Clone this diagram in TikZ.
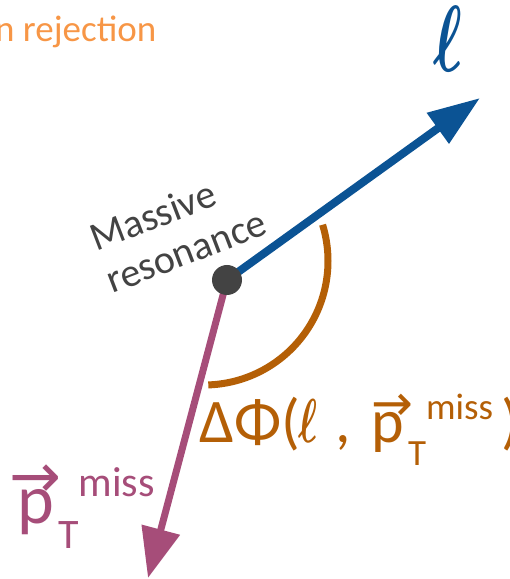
\RequirePackage{fix-cm}
\documentclass[tikz,border=0pt]{standalone}
\usepackage{fontspec}
\setmainfont{Carlito}
\newfontfamily\arrowfont{DejaVu Sans}
\usepackage{xcolor}
\definecolor{lepblue}{HTML}{0B5394}
\definecolor{metpurple}{HTML}{A64D79}
\definecolor{anglebrown}{HTML}{B45F06}
\definecolor{resgray}{HTML}{434343}
\definecolor{rejorange}{HTML}{F79646}
\usetikzlibrary{arrows.meta, positioning, calc}

% p_T^miss with arrow: main size, arrow size, script size, arrow kern
\newcommand{\ptmiss}[4]{{\fontsize{#1}{#1}\selectfont
    \rlap{\kern#4\raisebox{0.36em}{\fontsize{#2}{#2}\arrowfont →}}p\kern0.06em%
    \raisebox{-0.36em}{\fontsize{#3}{#3}\selectfont T}%
    \raisebox{0.38em}{\fontsize{#3}{#3}\selectfont miss}}}
\newcommand{\lep}{\scalebox{0.65}[1]{\boldmath$\ell$}}

\begin{document}
\begin{tikzpicture}[
    x=1pt, y=1pt,
    vertex/.style={
        circle,
        fill=resgray,
        minimum size=30pt,
        inner sep=0pt,
    },
    lepton/.style={line width=8pt, color=lepblue, -{Triangle[length=52pt, width=36pt]}},
    missing/.style={line width=7pt, color=metpurple, -{Triangle[length=50pt, width=38pt]}},
    anglearc/.style={line width=7pt, color=anglebrown},
    reslbl/.style={
        font=\fontsize{40}{45}\selectfont,
        color=resgray,
        align=left,
        rotate=21,
        inner sep=0pt,
    },
    lbl/.style={anchor=base west, inner sep=0pt},
]

\useasboundingbox (0,0) rectangle (510,579);
\clip (0,0) rectangle (510,579);

\coordinate (vtx) at (227,299);
\coordinate (ltip) at (480,481);
\coordinate (mtip) at (148,1);
\coordinate (arcc) at (204,318);

\draw[lepton] (vtx) -- (ltip);
\draw[missing] (vtx) -- (mtip);
\draw[anglearc] ($(arcc)+(17:124)$) arc[start angle=17, end angle=-88, radius=124];

\node[vertex] (res) at (vtx) {};
\node[reslbl] (reslabel) at (178,349) {Massive\\resonance};

\node[inner sep=0pt, color=lepblue, font=\fontsize{94}{94}\selectfont] (llbl) at (448,540) {\lep};

\node[lbl, color=anglebrown, font=\fontsize{62}{62}\selectfont] (dphi) at (199,136)
    {ΔΦ(\kern-0.03em\lep\hspace{0.3em},\hspace{0.33em}\ptmiss{62}{50}{37}{0em}\kern0.14em)};

\node[lbl, color=metpurple] (ptlbl) at (17,56) {\ptmiss{70}{62}{42}{-0.11em}};

\node[lbl, color=rejorange, font=\fontsize{37}{37}\selectfont] (rej) at (-5,537) {n rejection};

\end{tikzpicture}
\end{document}
